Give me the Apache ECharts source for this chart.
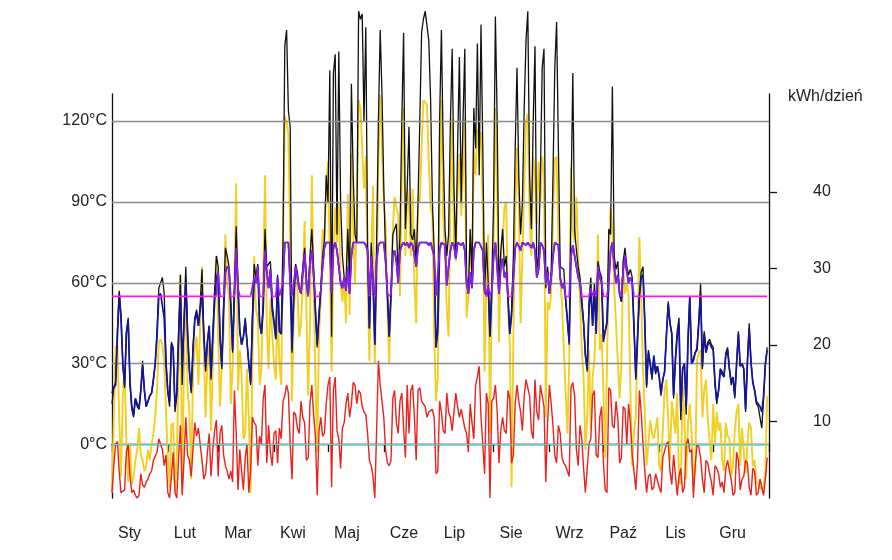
<!DOCTYPE html>
<html><head><meta charset="utf-8">
<script src="https://cdn.jsdelivr.net/npm/echarts@6/dist/echarts.min.js"></script>
<style>html,body{margin:0;padding:0;background:#fff}#c{width:892px;height:560px}</style>
</head><body><div id="c"></div>
<script>
const months = ['Sty','Lut','Mar','Kwi','Maj','Cze','Lip','Sie','Wrz','Paź','Lis','Gru'];
const monthStarts = [0,31,59,90,120,151,181,212,243,273,304,334,365];
const leftTicks = [0,30,60,90,120];
const rightTicks = [10,20,30,40];

const blue = [
19,21,22,40,56,47,30,22,41,46,23,14,11,17,15,13,20,29,20,14,16,18,19,24,30,40,55,56,56,47,29,
20,16,37,35,14,19,40,56,29,45,60,41,28,20,35,46,49,44,50,57,41,29,38,44,25,40,53,62,
64,40,29,50,64,66,65,52,35,55,73,58,42,37,40,46,38,30,23,45,62,60,66,45,41,50,72,64,58,65,50,
45,39,62,42,41,60,75,75,75,60,35,55,66,62,58,56,64,71,60,55,68,72,63,50,37,48,57,66,73,75,
75,75,56,73,75,72,66,60,58,62,57,66,56,70,75,75,75,75,75,75,75,74,72,43,70,60,37,68,74,75,75,
75,68,56,40,56,70,72,68,60,72,74,75,74,75,73,75,74,70,66,73,75,75,75,75,75,74,75,75,70,36,
42,72,75,75,74,59,66,72,75,74,69,75,75,74,75,72,60,56,64,58,72,75,75,75,75,72,57,55,59,40,57,
70,75,75,56,66,69,62,64,54,41,48,62,73,75,75,72,75,75,74,75,75,73,75,72,62,65,75,74,72,60,64,
56,62,70,75,75,74,62,58,60,54,46,38,70,74,70,66,62,60,52,45,33,28,50,58,44,57,41,66,62,60,
38,42,45,60,72,75,66,60,63,56,53,65,70,64,60,62,60,43,25,40,55,62,63,45,22,34,30,25,33,27,29,
25,19,24,27,40,52,45,41,18,31,40,45,12,28,30,14,38,55,30,31,34,35,45,56,29,41,34,37,38,36,
35,23,16,20,28,26,25,33,35,28,23,25,18,30,41,29,30,28,13,30,43,30,23,20,16,15,14,12,18,30,35
];

const black = [
15,21,23,42,57,48,30,21,42,47,22,13,10,17,14,13,20,31,20,14,16,18,19,24,30,42,58,60,62,56,32,
19,14,38,36,12,18,42,63,22,46,66,42,27,19,36,47,50,44,52,65,41,27,38,44,24,41,57,70,
66,40,28,52,73,70,66,52,34,58,81,60,42,37,40,47,38,30,22,48,67,62,67,45,41,52,80,66,66,68,52,
46,40,63,42,41,75,148,154,124,118,34,56,67,64,58,56,66,73,62,55,70,80,66,50,36,48,58,70,76,100,
90,139,40,138,145,78,146,90,70,62,60,80,60,134,100,78,75,161,158,160,120,155,75,43,75,62,37,75,120,154,130,
95,70,56,40,56,78,80,82,62,78,120,153,80,95,118,78,76,80,66,90,120,153,158,161,161,150,128,90,72,36,
45,120,154,110,80,70,78,120,147,95,70,110,144,90,120,147,62,56,80,62,125,110,149,100,156,110,56,75,60,40,60,
90,159,120,56,72,80,66,70,55,41,50,70,110,140,100,78,90,125,150,161,100,80,120,148,65,70,100,140,147,58,66,
56,64,100,140,157,110,66,66,65,54,46,37,90,138,80,72,66,62,54,45,33,27,53,62,44,60,42,68,64,62,
40,42,46,80,78,133,70,65,68,56,53,68,73,66,63,65,62,44,24,40,56,64,66,46,21,35,30,24,32,26,29,
25,18,24,27,41,53,45,41,17,32,42,47,9,28,30,11,39,55,30,32,34,36,46,60,28,42,35,38,39,37,
36,22,15,20,28,27,25,34,36,28,22,25,17,30,42,29,30,28,12,31,45,31,23,20,15,14,10,6,17,30,36
];

const yellow = [
-18,10,36,37,10,-12,18,28,2,-14,0,-15,-12,-6,-2,6,-4,-6,-10,-8,-2,-6,0,4,10,20,38,39,37,30,12,
-5,-16,7,8,-18,-5,30,63,-18,30,62,20,12,-13,25,36,40,22,45,66,35,10,30,38,5,30,55,70,
40,14,29,42,78,60,55,15,28,60,97,20,35,26,2,4,28,10,-18,30,70,50,47,22,28,60,100,45,28,54,41,
30,24,50,30,22,75,122,120,115,75,16,48,62,58,40,45,60,83,50,18,45,100,60,25,-3,40,55,80,75,95,
105,70,27,70,88,75,90,60,53,62,45,93,48,108,80,60,85,128,125,110,95,107,60,31,70,96,30,60,104,130,110,
90,82,50,30,30,80,92,88,85,55,100,125,70,95,88,70,95,60,45,92,90,110,128,128,126,105,88,85,40,16,
25,90,128,85,70,50,40,90,121,75,68,95,108,85,100,121,47,55,78,60,110,100,117,110,116,85,27,60,78,4,55,
72,125,95,38,70,75,88,90,50,38,-16,40,85,110,90,45,70,95,120,123,85,70,107,100,82,105,90,107,100,10,53,
50,56,85,106,107,75,60,53,35,20,4,30,103,80,75,92,70,53,35,25,-2,10,35,5,25,31,50,78,35,41,
20,-5,30,70,88,80,58,45,31,17,30,68,56,60,55,20,-8,5,10,40,77,55,28,12,-8,0,9,4,2,6,10,
-8,-10,5,20,24,24,-6,16,10,4,19,-14,-15,22,10,-13,8,15,4,-13,-10,31,34,35,10,20,24,9,9,-6,
15,0,12,5,8,-6,-10,8,3,2,-12,-8,5,12,15,-8,6,6,-11,0,8,6,-8,-6,-14,-15,-16,-17,-16,-10,18
];

const red = [
-18,-8,0,1,-10,-18,-18,-17,-3,0,-12,-18,-17,-19,-20,-19,-11,-15,-16,-14,-13,-11,-10,-6,-6,-3,2,0,-2,-8,-4,
-18,-20,-12,-3,-18,-20,-5,7,-19,-6,10,-4,-6,-12,-2,8,3,6,6,-6,-13,-11,-3,4,-12,-2,5,9,
-12,4,7,-4,-8,-10,-13,-10,-14,20,4,-17,-2,-10,-17,-5,0,-18,-10,10,8,7,-8,3,0,17,22,-7,7,-3,-8,
4,5,-7,6,2,16,18,22,19,0,-13,12,11,6,4,16,10,8,-6,-5,15,22,11,3,-19,5,10,3,4,15,
22,25,-16,20,25,5,2,-9,6,8,15,19,10,15,23,22,15,20,19,14,12,11,4,-6,-8,-12,-20,5,31,22,16,
10,-2,-7,-8,-6,17,20,8,4,16,19,6,-5,22,4,20,22,10,-6,20,21,16,16,14,10,12,12,13,10,-11,
-10,16,12,5,4,19,12,10,5,12,19,14,10,13,13,6,4,-3,15,8,2,22,25,29,10,0,-11,19,15,-20,16,
17,22,12,-7,5,10,5,4,20,17,-7,-4,15,22,16,12,5,18,24,21,18,5,2,24,12,9,22,18,14,-14,8,
22,15,7,-4,-7,7,4,-5,-7,-8,-10,-12,21,23,18,-2,-8,7,2,-9,-18,-18,0,2,18,20,-4,-5,10,14,
-7,-17,-18,21,20,7,6,16,10,-7,-5,14,13,0,15,8,-4,-10,-17,-6,20,12,0,-10,-18,-12,-11,-17,-16,-11,-11,
-16,-18,-5,-5,0,1,-10,-15,-4,-4,-19,-12,-9,-18,-16,0,2,-3,-2,-20,-8,0,-1,-5,-13,-18,-6,-7,-11,-14,
-19,-8,-9,-11,-16,-14,-18,-9,-6,-10,-13,-19,-18,-3,-6,-17,-13,-12,-6,-7,-16,-19,-9,-10,-19,-18,-13,-16,-19,-13,-5
];

const magenta = [
55,55,55,55,55,55,55,55,55,55,55,55,55,55,55,55,55,55,55,55,55,55,55,55,55,55,55,55,55,55,55,
55,55,55,55,55,55,55,55,55,55,55,55,55,55,55,55,55,55,55,55,55,55,55,55,55,55,55,55,
64,55,55,55,64,66,65,55,55,55,73,58,55,55,55,55,55,55,55,55,62,60,66,55,55,55,72,64,58,65,55,
55,55,62,55,55,60,75,75,75,60,55,55,66,62,58,56,64,71,60,55,68,72,63,55,55,55,57,66,73,75,
75,75,56,73,75,72,66,60,58,62,57,66,56,70,75,75,75,75,75,75,75,74,72,55,70,60,55,68,74,75,75,
75,68,56,55,56,70,72,68,60,72,74,75,74,75,73,75,74,70,66,73,75,75,75,75,75,74,75,75,70,55,
55,72,75,75,74,59,66,72,75,74,69,75,75,74,75,72,60,56,64,58,72,75,75,75,75,72,57,55,59,55,57,
70,75,75,56,66,69,62,64,55,55,55,62,73,75,75,72,75,75,74,75,75,73,75,72,62,65,75,74,72,60,64,
56,62,70,75,75,74,62,58,60,55,55,55,70,74,70,66,62,60,55,55,55,55,55,58,55,57,55,66,62,60,
55,55,55,60,72,75,66,60,63,56,55,65,70,64,60,62,60,55,55,55,55,55,55,55,55,55,55,55,55,55,55,
55,55,55,55,55,55,55,55,55,55,55,55,55,55,55,55,55,55,55,55,55,55,55,55,55,55,55,55,55,55,
55,55,55,55,55,55,55,55,55,55,55,55,55,55,55,55,55,55,55,55,55,55,55,55,55,55,55,55,55,55,55
];

const days = [];
for (let i = 0; i <= 365; i++) days.push(String(i));
const startSet = new Set(monthStarts);
const FONT = "'Liberation Sans', Arial, Helvetica, sans-serif";
const TXT = '#222';
const MAGENTA = '#ff14ff', PURPLE = '#8a1ee6';

const chart = echarts.init(document.getElementById('c'), null, {renderer: 'canvas'});
function line(name, data, color, width, z) {
  return {name, type: 'line', xAxisIndex: 1, yAxisIndex: 2, data, showSymbol: false, symbol: 'none',
    lineStyle: {color, width}, itemStyle: {color}, z, silent: true, animation: false, clip: true};
}
chart.setOption({
  animation: false,
  backgroundColor: '#fff',
  title: {text: 'kWh/dzień', left: 783, top: 84,
    textStyle: {fontFamily: FONT, fontSize: 16, fontWeight: 'normal', color: TXT}},
  grid: [
    {left: 112, right: 123, top: 94, bottom: 62},
    {left: 112, right: 123, top: 5, bottom: 62}
  ],
  xAxis: [
    {gridIndex: 0, type: 'category', data: days, boundaryGap: false,
      axisLine: {lineStyle: {color: '#111', width: 1.3}},
      axisTick: {show: true, length: 8, interval: (i) => startSet.has(i), lineStyle: {color: '#111', width: 1.3}},
      axisLabel: {interval: (i) => startSet.has(i) && i < 365,
        formatter: (v) => { const k = monthStarts.indexOf(Number(v)); return k >= 0 && k < 12 ? months[k] : ''; },
        align: 'left', padding: [0, 0, 0, 6], margin: 28, fontSize: 16, color: TXT, fontFamily: FONT},
      splitLine: {show: false}},
    {gridIndex: 1, type: 'category', data: days, boundaryGap: false, show: false}
  ],
  yAxis: [
    {gridIndex: 0, type: 'value', min: -20, max: 130, interval: 10, position: 'left',
      axisLine: {show: true, lineStyle: {color: '#111', width: 1.3}}, axisTick: {show: false},
      splitLine: {show: false},
      axisLabel: {formatter: (v) => leftTicks.includes(v) ? v + '°C' : '', margin: 5,
        fontSize: 16, color: TXT, fontFamily: FONT}},
    {gridIndex: 0, type: 'value', min: 0, max: 52.8, interval: 10, position: 'right',
      axisLine: {show: true, lineStyle: {color: '#111', width: 1.3}},
      axisTick: {show: true, length: 8, customValues: rightTicks, lineStyle: {color: '#111', width: 1.3}},
      splitLine: {show: false},
      axisLabel: {customValues: rightTicks, formatter: (v) => rightTicks.includes(v) ? String(v) : '',
        margin: 44, fontSize: 16, color: TXT, fontFamily: FONT}},
    {gridIndex: 1, type: 'value', min: -20, max: 163.3, show: false}
  ],
  series: [
    {name: 'grid', type: 'line', xAxisIndex: 1, yAxisIndex: 2, data: [], silent: true, z: 1,
      markLine: {silent: true, symbol: 'none', animation: false, label: {show: false},
        data: leftTicks.map(v => ({yAxis: v, lineStyle: {color: v === 0 ? '#4cd6e0' : '#8c8c8c', width: v === 0 ? 1.1 : 1.3, type: 'solid'}}))}},
    line('yellow', yellow, '#f2cf22', 1.9, 2),
    line('red', red, '#e8231e', 1.4, 3),
    line('black', black, '#111111', 1.3, 4),
    line('blue', blue, '#14149c', 1.7, 5),
    line('magenta', magenta, MAGENTA, 1.7, 6)
  ]
});
// colour the magenta line purple where it rises above the 55°C level (blue shows through)
const h = chart.getHeight();
const ySplit = chart.convertToPixel({xAxisIndex: 1, yAxisIndex: 2}, [0, 55.5])[1];
const t = Math.min(1, Math.max(0, ySplit / h));
const grad = new echarts.graphic.LinearGradient(0, 0, 0, h, [
  {offset: 0, color: PURPLE}, {offset: t, color: PURPLE},
  {offset: t, color: MAGENTA}, {offset: 1, color: MAGENTA}
], true);
chart.setOption({series: [{}, {}, {}, {}, {}, {lineStyle: {color: grad}}]});
</script>
</body></html>
